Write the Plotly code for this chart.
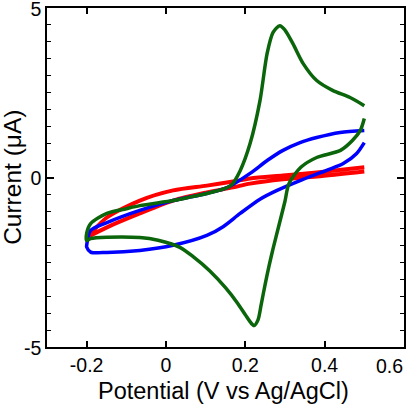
import plotly.graph_objects as go

# Green CV (reverse scan from 0.5 V down to -0.2 V, then forward scan back to 0.5 V)
green_v = [0.5, 0.49, 0.47, 0.44, 0.38, 0.34, 0.31, 0.30, 0.285, 0.27, 0.26, 0.25, 0.24, 0.232, 0.222, 0.215, 0.20, 0.18, 0.15, 0.11, 0.07, 0.035, -0.02, -0.066, -0.149, -0.19, -0.2,
           -0.2, -0.19, -0.149, -0.1, -0.066, 0.018, 0.06, 0.103, 0.14, 0.165, 0.187, 0.212, 0.237, 0.255, 0.27, 0.287, 0.30, 0.32, 0.346, 0.38, 0.42, 0.464, 0.5]
green_i = [1.74, 1.39, 1.09, 0.80, 0.59, 0.30, -0.18, -0.70, -1.4, -2.1, -2.6, -3.15, -3.75, -4.2, -4.37, -4.3, -4.05, -3.7, -3.25, -2.75, -2.35, -2.06, -1.85, -1.77, -1.76, -1.8, -1.86,
           -1.65, -1.36, -1.06, -0.92, -0.83, -0.68, -0.58, -0.47, -0.36, -0.22, 0.2, 1.0, 2.27, 3.66, 4.28, 4.48, 4.35, 3.95, 3.36, 2.86, 2.57, 2.36, 2.12]

# Blue CV (reverse then forward)
blue_v = [0.5, 0.48, 0.447, 0.405, 0.338, 0.28, 0.237, 0.187, 0.144, 0.103, 0.018, -0.066, -0.149, -0.19, -0.2,
          -0.2, -0.19, -0.149, -0.066, 0.018, 0.103, 0.154, 0.212, 0.255, 0.295, 0.338, 0.38, 0.439, 0.5]
blue_i = [1.03, 0.7, 0.41, 0.21, -0.09, -0.38, -0.64, -1.06, -1.45, -1.71, -2.0, -2.15, -2.21, -2.2, -2.05,
          -2.0, -1.56, -1.33, -0.97, -0.68, -0.47, -0.3, 0.12, 0.5, 0.8, 1.03, 1.18, 1.33, 1.39]

# Red CV (reverse then forward)
red_v = [0.5, 0.38, 0.295, 0.212, 0.169, 0.103, 0.018, -0.066, -0.149, -0.2,
         -0.2, -0.19, -0.149, -0.066, 0.018, 0.103, 0.169, 0.212, 0.295, 0.38, 0.5]
red_i = [0.18, 0.03, -0.05, -0.18, -0.29, -0.44, -0.68, -1.06, -1.47, -1.77,
         -1.77, -1.65, -1.18, -0.68, -0.38, -0.24, -0.12, -0.03, 0.06, 0.15, 0.3]

x_ticks = [-0.2, 0, 0.2, 0.4, 0.6]
x_tick_text = ["-0.2", "0", "0.2", "0.4", "0.6"]
y_ticks = [-5, 0, 5]
y_tick_text = ["-5", "0", "5"]

fig = go.Figure()
fig.add_trace(go.Scatter(x=red_v, y=red_i, mode="lines", line=dict(color="#ff0000", width=4, shape="spline", smoothing=0.8)))
fig.add_trace(go.Scatter(x=blue_v, y=blue_i, mode="lines", line=dict(color="#0000ff", width=3.5, shape="spline", smoothing=0.8)))
fig.add_trace(go.Scatter(x=green_v, y=green_i, mode="lines", line=dict(color="#0b650b", width=3.5, shape="spline", smoothing=0.8)))

tick_font = dict(family="Liberation Sans, Arial, sans-serif", size=19.5, color="black")
xtitle_font = dict(family="Liberation Sans, Arial, sans-serif", size=23.5, color="black")
ytitle_font = dict(family="Liberation Sans, Arial, sans-serif", size=24.5, color="black")

# the last x tick label sits flush with the right frame edge in the reference
shown_x_text = x_tick_text[:-1] + [""]
fig.update_layout(
    width=414, height=405,
    margin=dict(l=47, r=10, t=8, b=58, autoexpand=False),
    paper_bgcolor="white", plot_bgcolor="white",
    showlegend=False,
    font=tick_font,
    annotations=[
        dict(text=x_tick_text[-1], xref="paper", yref="paper", x=1.003, y=-0.018,
             xanchor="right", yanchor="top", showarrow=False, font=tick_font),
        dict(text="Potential (V vs Ag/AgCl)", xref="paper", yref="paper", x=0.495, y=-0.13,
             xanchor="center", yanchor="middle", showarrow=False, font=xtitle_font),
        dict(text="Current (μA)", xref="paper", yref="paper", x=-0.097, y=0.5,
             xanchor="center", yanchor="middle", showarrow=False, textangle=-90, font=ytitle_font),
    ],
)
fig.update_xaxes(
    range=[-0.3, 0.6001], tickvals=x_ticks, ticktext=shown_x_text,
    ticks="inside", ticklen=6, tickwidth=1.5, tickcolor="black",
    showline=True, linecolor="black", linewidth=1.5, mirror="allticks",
    showgrid=False, zeroline=False, automargin=False, tickfont=tick_font,
    ticklabeloverflow="allow",
)
fig.update_yaxes(
    range=[-5, 5], tickvals=y_ticks, ticktext=y_tick_text,
    ticks="inside", ticklen=7, tickwidth=1.5, tickcolor="black",
    minor=dict(dtick=0.5, ticks="inside", ticklen=4, tickwidth=1.2, tickcolor="black"),
    showline=True, linecolor="black", linewidth=1.5, mirror="allticks",
    showgrid=False, zeroline=False, automargin=False, tickfont=tick_font,
    ticklabeloverflow="allow", ticklabelshift=1,
)
fig.write_html("out.html", config={"displayModeBar": False},
               post_script="document.body.style.margin='0px';")
